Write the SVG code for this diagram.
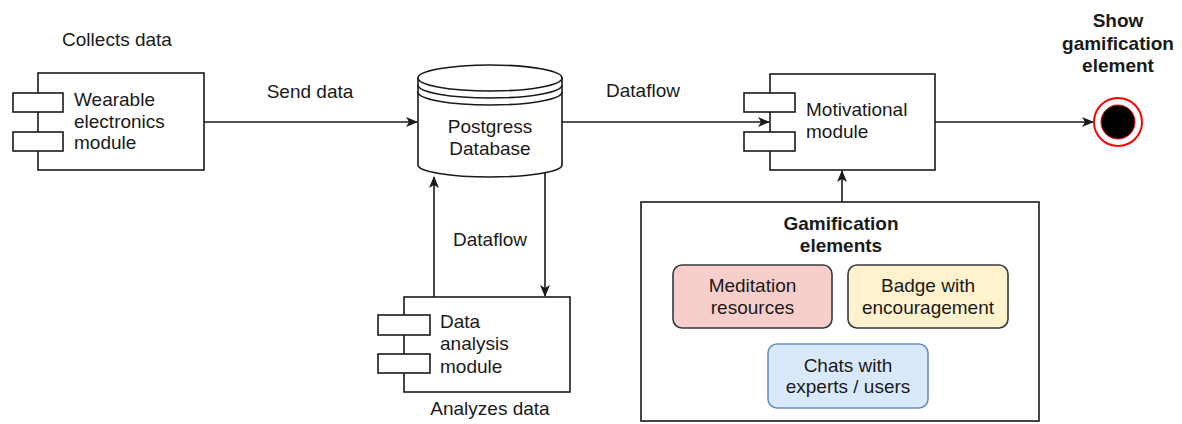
<svg xmlns="http://www.w3.org/2000/svg" width="1182" height="424" viewBox="0 0 1182 424">
  <style>
    .shape { fill: #ffffff; stroke: #1a1a1a; stroke-width: 1.6; }
    .lbl { font-family: "Liberation Sans", Arial, sans-serif; font-size: 19px; fill: #1a1a1a; }
    .mid { text-anchor: middle; }
    .bold { font-weight: bold; }
    .edge { fill: none; stroke: #1a1a1a; stroke-width: 1.6; }
  </style>
  <defs>
    <marker id="arrow" viewBox="0 0 12 10" refX="11" refY="5" markerWidth="12" markerHeight="10" markerUnits="userSpaceOnUse" orient="auto">
      <path d="M0,0 L12,5 L0,10 L3,5 Z" fill="#1a1a1a"/>
    </marker>
  </defs>

  <rect width="1182" height="424" fill="#ffffff"/>

  <!-- connectors -->
  <g id="connectors">
    <path class="edge" d="M204,122 H417" marker-end="url(#arrow)"/>
    <path class="edge" d="M562,122 H769" marker-end="url(#arrow)"/>
    <path class="edge" d="M935,122 H1093" marker-end="url(#arrow)"/>
    <path class="edge" d="M842,202 V171" marker-end="url(#arrow)"/>
    <path class="edge" d="M434,297 V177" marker-end="url(#arrow)"/>
    <path class="edge" d="M545,173 V296" marker-end="url(#arrow)"/>
    <text class="lbl mid" x="310" y="98">Send data</text>
    <text class="lbl mid" x="643" y="97">Dataflow</text>
    <text class="lbl mid" x="490" y="246">Dataflow</text>
  </g>

  <!-- wearable electronics component -->
  <g id="wearable">
    <text class="lbl mid" x="117" y="46">Collects data</text>
    <rect class="shape" x="38" y="73" width="166" height="97"/>
    <rect class="shape" x="13" y="93" width="50" height="19"/>
    <rect class="shape" x="13" y="132" width="50" height="19"/>
    <text class="lbl" x="74" y="106">Wearable</text>
    <text class="lbl" x="74" y="127.5">electronics</text>
    <text class="lbl" x="74" y="149">module</text>
  </g>

  <!-- database cylinder -->
  <g id="database">
    <path class="shape" d="M418,78 V165 A72,12 0 0 0 562,165 V78 Z"/>
    <ellipse class="shape" cx="490" cy="78" rx="72" ry="13"/>
    <path class="edge" d="M418,85 A72,13 0 0 0 562,85"/>
    <path class="edge" d="M418,92 A72,13 0 0 0 562,92"/>
    <text class="lbl mid" x="490" y="133">Postgress</text>
    <text class="lbl mid" x="490" y="155">Database</text>
  </g>

  <!-- motivational component -->
  <g id="motivational">
    <rect class="shape" x="770" y="74" width="165" height="96"/>
    <rect class="shape" x="744" y="93" width="51" height="19"/>
    <rect class="shape" x="744" y="132" width="51" height="19"/>
    <text class="lbl" x="806" y="116">Motivational</text>
    <text class="lbl" x="806" y="138">module</text>
  </g>

  <!-- end state -->
  <g id="end">
    <text class="lbl mid bold" x="1118" y="27">Show</text>
    <text class="lbl mid bold" x="1118" y="50">gamification</text>
    <text class="lbl mid bold" x="1118" y="72">element</text>
    <circle cx="1118" cy="122" r="24" fill="#ffffff" stroke="#ff0000" stroke-width="2"/>
    <circle cx="1118" cy="122" r="17" fill="#000000" stroke="#ff0000" stroke-width="1"/>
  </g>

  <!-- data analysis component -->
  <g id="analysis">
    <rect class="shape" x="404" y="297" width="166" height="95"/>
    <rect class="shape" x="378" y="315" width="52" height="20"/>
    <rect class="shape" x="378" y="354" width="52" height="19"/>
    <text class="lbl" x="440" y="327.5">Data</text>
    <text class="lbl" x="440" y="350">analysis</text>
    <text class="lbl" x="440" y="372.5">module</text>
    <text class="lbl mid" x="490" y="415">Analyzes data</text>
  </g>

  <!-- gamification container -->
  <g id="gamification">
    <rect class="shape" x="641" y="202" width="398" height="219"/>
    <text class="lbl mid bold" x="841" y="230">Gamification</text>
    <text class="lbl mid bold" x="841" y="252">elements</text>
  </g>

  <g id="meditation">
    <rect x="673" y="265" width="159" height="63" rx="9" fill="#f8cecc" stroke="#36393d" stroke-width="1.6"/>
    <text class="lbl mid" x="752.5" y="292">Meditation</text>
    <text class="lbl mid" x="752.5" y="314">resources</text>
  </g>

  <g id="badge">
    <rect x="848" y="265" width="160" height="63" rx="9" fill="#fff2cc" stroke="#36393d" stroke-width="1.6"/>
    <text class="lbl mid" x="928" y="292">Badge with</text>
    <text class="lbl mid" x="928" y="314">encouragement</text>
  </g>

  <g id="chats">
    <rect x="768" y="344" width="160" height="64" rx="9" fill="#dae8fc" stroke="#6c8ebf" stroke-width="1.6"/>
    <text class="lbl mid" x="848" y="372">Chats with</text>
    <text class="lbl mid" x="848" y="393">experts / users</text>
  </g>
</svg>
